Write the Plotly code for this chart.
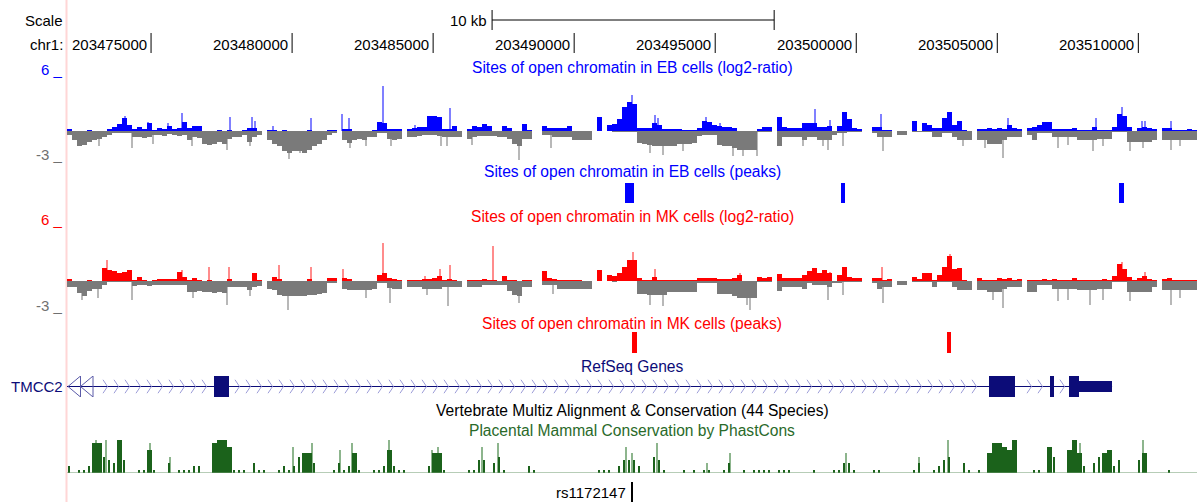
import plotly.graph_objects as go

# ---------------- canvas / window ----------------
W, H = 1204, 502
PLOT_L, PLOT_R = 67, 1197            # pixel extent of the data area
WIN_START, WIN_END = 203472020, 203512080
N_BINS = 226
BIN = (WIN_END - WIN_START) / N_BINS
BPP = (WIN_END - WIN_START) / (PLOT_R - PLOT_L)   # bp per pixel

TICK_POS = [203475000, 203480000, 203485000, 203490000,
            203495000, 203500000, 203505000, 203510000]
TICK_LABELS = ["203475000", "203480000", "203485000", "203490000",
               "203495000", "203500000", "203505000", "203510000"]
SCALE_START, SCALE_LEN = 203487090, 10000

# ---------------- wiggle data (tenths of log2-ratio, per bin) ----------------
EB_POS = [2,0,0,0,1,0,0,0,2,4, 7,13,6,2,4,2,8,1,3,2, 5,2,3,9,3,5,5,0,0,0,
          1,0,1,0,0,1,3,3,0,None, 1,1,0,1,0,0,0,0,1,0, 0,0,1,1,None,2,2,0,0,0,
          0,1,9,8,2,2,2,None,2,3, 4,4,16,16,14,2,2,5,0,None, 2,5,4,7,5,0,0,5,3,0,
          0,7,1,None,None,5,3,3,3,3, 5,0,0,0,0,None,15,None,6,7, 12,25,30,28,3,3,3,8,6,2,
          2,2,2,1,1,1,3,10,9,6, 5,4,4,3,0,0,0,0,2,4, 4,None,14,4,3,3,3,8,8,8,
          4,4,5,0,5,20,12,3,2,None, None,4,4,1,1,None,0,0,None,10, 0,8,6,3,3,13,20,6,10,1,
          0,None,2,2,3,2,3,2,6,3, 2,None,3,4,6,9,9,2,2,2, 2,3,1,1,1,4,1,1,1,4,
          18,16,4,0,3,4,3,2,None,3, 3,1,1,1,2,1]
EB_NEG = [4,9,16,14,11,9,8,6,4,2, 2,2,2,6,6,7,6,4,4,5, 3,4,5,4,9,6,7,13,14,13,
          11,13,8,6,6,4,11,6,4,None, 9,13,16,21,23,21,21,23,20,16, 13,9,4,2,None,9,12,9,8,9,
          6,6,2,2,8,9,8,None,6,6, 5,4,4,4,5,6,6,6,6,None, 8,6,5,5,5,5,6,6,8,13,
          16,8,8,None,None,4,4,6,6,6, 6,9,9,9,9,None,0,None,0,1, 1,1,1,1,12,13,14,16,16,16,
          15,15,13,13,13,12,5,4,4,4, 14,16,16,18,20,20,20,20,1,1, 1,None,16,6,6,6,6,9,6,6,
          9,9,9,4,2,2,1,1,1,None, None,2,6,6,6,None,4,4,None,1, 1,1,1,6,6,2,2,6,9,9,
          9,None,9,9,13,13,13,9,6,6, 6,None,4,9,2,2,2,6,6,6, 6,6,9,9,9,9,8,8,8,1,
          1,1,11,11,11,11,11,9,None,9, 9,9,9,9,9,9]
MK_POS = [2,0,0,0,1,0,0,13,11,10, 8,9,11,1,4,1,0,1,2,2, 2,2,9,4,1,3,1,0,1,0,
          0,0,2,0,0,0,0,8,1,None, 0,4,2,0,0,0,0,0,2,0, 0,0,3,3,None,3,2,0,0,0,
          0,0,6,8,3,2,1,None,1,1, 1,2,2,3,5,1,2,1,0,None, 1,1,1,2,1,1,0,5,1,1,
          0,1,1,None,None,10,3,2,1,1, 1,1,1,0,0,None,11,None,6,5, 8,15,22,22,3,1,1,4,1,1,
          1,1,1,1,1,1,3,3,3,3, 2,2,2,3,6,0,0,0,4,3, 4,None,7,3,3,3,3,6,10,13,
          8,11,8,0,6,15,4,3,3,None, None,3,3,1,2,None,0,0,None,4, 2,8,8,1,6,15,26,12,13,1,
          0,None,3,1,1,1,3,2,3,1, 2,None,1,1,1,2,1,2,1,1, 1,3,1,1,1,1,1,2,1,5,
          18,12,4,1,3,5,2,1,None,2, 3,1,1,1,1,1]
MK_NEG = [6,6,12,16,10,8,8,4,1,1, 1,1,1,5,4,4,5,4,4,4, 4,4,4,4,11,11,10,11,11,12,
          11,12,6,6,6,6,9,6,5,None, 8,9,14,15,16,16,16,16,14,14, 13,12,2,2,None,8,9,9,9,9,
          9,8,2,2,7,8,8,None,6,6, 6,8,8,8,8,6,6,6,6,None, 6,6,6,4,4,4,4,4,10,14,
          16,6,6,None,None,4,4,4,8,8, 8,8,8,8,8,None,0,None,0,1, 0,0,0,0,13,13,14,14,14,14,
          11,11,11,11,11,11,2,2,2,2, 13,13,13,16,18,18,18,18,1,1, 1,None,10,6,6,6,6,8,2,4,
          4,4,6,2,2,1,1,1,1,None, None,2,8,6,6,None,4,4,None,1, 1,1,1,6,1,1,1,6,9,9,
          9,None,9,9,11,11,11,8,6,6, 6,None,11,11,4,4,4,8,8,8, 8,8,9,9,9,9,8,8,8,1,
          1,1,11,11,11,11,11,6,None,9, 9,9,9,9,9,9]
# PhastCons (tenths, per bin)
CONS = [2,0,1,1,2,9,9,5,4,3, 10,4,0,0,1,1,7,1,0,0, 3,0,1,1,1,2,2,0,0,9,
        10,10,8,1,1,1,0,3,1,1, 0,0,1,2,1,2,5,6,6,3, 0,0,0,1,3,1,2,6,1,0,
        0,1,1,2,7,2,1,1,0,0, 0,0,2,6,6,1,0,0,0,0, 1,1,4,4,0,3,5,1,0,0,
        0,0,2,1,0,0,0,0,0,0, 0,0,0,0,0,0,1,1,1,0, 2,4,4,4,2,0,0,5,4,1,
        0,0,0,1,0,1,0,1,1,0, 0,1,3,0,0,1,0,1,1,1, 1,0,1,1,1,0,0,0,0,1,
        0,0,0,1,1,3,3,1,0,0, 0,1,1,0,0,0,0,0,0,1, 3,0,0,1,2,4,5,0,0,3,
        1,0,1,0,6,9,9,8,7,10, 0,0,0,1,1,0,8,5,0,0, 7,10,6,2,0,3,5,6,7,2,
        4,0,0,0,4,6,0,0,0,0, 1,0,0,0,0,0]

# narrow maxima (genomic position, tenths)
EB_POS_SPIKES = [(203474080,16),(203474900,9),(203475020,8),(203475610,8),(203476090,19),
                 (203477800,15),(203478590,15),(203478680,10),(203479330,5),(203480660,13),
                 (203481790,18),(203482030,13),(203483230,47),(203484360,6),(203485600,24),
                 (203492040,37),(203492870,17),(203492980,13),(203494670,15),(203495170,8),
                 (203498540,23),(203499070,11),(203500900,18),(203505390,13),(203508490,13),
                 (203509410,25),(203510120,10),(203510240,10),(203511180,10)]
EB_NEG_SPIKES = [(203473150,16),(203474340,18),(203475080,13),(203476440,16),(203477680,20),
                 (203478510,16),(203479900,29),(203480280,23),(203482050,18),(203482640,16),
                 (203483500,16),(203485300,16),(203485480,16),(203486370,14),(203488040,30),
                 (203489200,18),(203492690,23),(203493160,25),(203493870,21),(203495640,26),
                 (203496000,26),(203496470,26),(203498120,16),(203498830,16),(203499010,20),
                 (203499520,15),(203500960,21),(203503790,16),(203504560,18),(203505210,28),
                 (203507160,18),(203507520,14),(203508400,21),(203508760,16),(203509700,21),
                 (203510180,18),(203511180,20),(203511480,16)]
MK_POS_SPIKES = [(203473430,22),(203476090,11),(203477050,14),(203477770,14),(203479550,17),
                 (203480660,15),(203481820,12),(203483230,39),(203484710,5),(203485240,12),
                 (203485600,17),(203487130,36),(203492100,30),(203492870,12),(203495880,8),
                 (203499070,9),(203500920,14),(203503320,28),(203509410,20),(203510240,9)]
MK_NEG_SPIKES = [(203472540,20),(203473130,18),(203474340,20),(203476480,18),(203477680,25),
                 (203478510,16),(203479870,30),(203482640,18),(203483470,23),(203484770,14),
                 (203485540,26),(203488050,23),(203489260,13),(203492690,25),(203493160,26),
                 (203496120,25),(203496230,30),(203499010,20),(203499520,14),(203500960,23),
                 (203504860,20),(203505210,28),(203507160,21),(203507520,20),(203508290,25),
                 (203508760,20),(203509700,21),(203511180,25),(203511480,18)]
CONS_SPIKES = [(203473050,10),(203473400,10),(203474960,9),(203475670,5),(203480040,8),
               (203480720,9),(203481700,7),(203482130,9),(203483450,10),(203484970,7),
               (203485180,8),(203486720,8),(203487310,9),(203491860,8),(203492060,6),
               (203492930,9),(203494700,3),(203495520,6),(203499630,6),(203502230,5),
               (203503260,10),(203505570,10),(203507930,9),(203510180,10)]

# peaks
EB_PEAKS = [(203491800, 203492120), (203499460, 203499600), (203509310, 203509490)]
MK_PEAKS = [(203492050, 203492230), (203503220, 203503360)]

# RefSeq gene TMCC2 (+ strand, starts left of the window)
GENE_NAME = "TMCC2"
EXONS = [(203477220, 203477760), (203504700, 203505620),
         (203506870, 203507010), (203507540, 203509070)]
CDS_END = 203507890
TX_END = 203509070

SNP_NAME, SNP_POS = "rs1172147", 203492040

# ---------------- colours ----------------
BLUE, BLUE_L = "#0000FF", "#8080FF"
RED, RED_L = "#FF0000", "#FF8C8C"
GRAY, GRAY_L = "#7A7A7A", "#B8B8B8"
GREEN, GREEN_L = "#1B621B", "#8DB58D"
NAVY, NAVY_L = "#0C0C78", "#9C9CD8"
FONT = "Liberation Sans, Arial, Helvetica, sans-serif"
FS = 15
FS_T = 15.6


def px(p):
    return p / W


def py(p):
    return 1 - p / H


fig = go.Figure()


def add_bins(vals, sign, color, yaxis, scale=10.0, frac=1.0, vmin=None, vmax=None):
    xs, ys = [], []
    for i, v in enumerate(vals):
        if v is None or v == 0:
            continue
        if vmin is not None and v < vmin:
            continue
        if vmax is not None and v > vmax:
            continue
        xs.append(WIN_START + (i + 0.5) * BIN)
        ys.append(sign * v / scale)
    fig.add_trace(go.Bar(x=xs, y=ys, width=BIN * frac,
                         marker=dict(color=color, line=dict(width=0)),
                         xaxis="x", yaxis=yaxis, hoverinfo="skip", showlegend=False))


def add_spikes(spk, sign, color, yaxis, scale=10.0):
    fig.add_trace(go.Bar(x=[s[0] for s in spk], y=[sign * s[1] / scale for s in spk],
                         width=1.3 * BPP, marker=dict(color=color, line=dict(width=0)),
                         xaxis="x", yaxis=yaxis, hoverinfo="skip", showlegend=False))


def add_blocks(blocks, color, yaxis, base=0.0, height=1.0):
    fig.add_trace(go.Bar(x=[(s + e) / 2 for s, e in blocks], y=[height] * len(blocks),
                         base=[base] * len(blocks), width=[e - s for s, e in blocks],
                         marker=dict(color=color, line=dict(width=0)),
                         xaxis="x", yaxis=yaxis, hoverinfo="skip", showlegend=False))


# EB log2 ratio (y), EB peaks (y2), MK log2 (y3), MK peaks (y4), gene (y5), cons (y6), snp (y7)
add_spikes(EB_POS_SPIKES, 1, BLUE_L, "y")
add_spikes(EB_NEG_SPIKES, -1, GRAY_L, "y")
add_bins(EB_POS, 1, BLUE, "y")
add_bins(EB_NEG, -1, GRAY, "y")
add_blocks(EB_PEAKS, BLUE, "y2")

add_spikes(MK_POS_SPIKES, 1, RED_L, "y3")
add_spikes(MK_NEG_SPIKES, -1, GRAY_L, "y3")
add_bins(MK_POS, 1, RED, "y3")
add_bins(MK_NEG, -1, GRAY, "y3")
add_blocks(MK_PEAKS, RED, "y4")

# gene model
fig.add_trace(go.Scatter(x=[WIN_START, TX_END], y=[0.5, 0.5], mode="lines",
                         line=dict(color=NAVY, width=1), xaxis="x", yaxis="y5",
                         hoverinfo="skip", showlegend=False))
# chevrons (strand +) at a fixed pixel pitch, skipping exons
cx, cy = [], []
p = 36.0
while True:
    x0 = WIN_START + p * BPP
    if x0 > EXONS[-1][0]:
        break
    x1 = x0 + 4.5 * BPP
    if all(x1 < s - 2 * BPP or x0 > e + 2 * BPP for s, e in EXONS):
        cx += [x0, x1, x0, None]
        cy += [0.82, 0.5, 0.18, None]
    p += 11.0
fig.add_trace(go.Scatter(x=cx, y=cy, mode="lines", line=dict(color=NAVY_L, width=1),
                         xaxis="x", yaxis="y5", hoverinfo="skip", showlegend=False))
# off-screen continuation arrows at the left edge
ax, ay = [], []
for k in range(2):
    tip = WIN_START + (1 + 12.5 * k) * BPP
    base = tip + 12.5 * BPP
    ax += [base, tip, base, base, None]
    ay += [1.0, 0.5, 0.0, 1.0, None]
fig.add_trace(go.Scatter(x=ax, y=ay, mode="lines", line=dict(color="#5A5AA8", width=1),
                         xaxis="x", yaxis="y5", hoverinfo="skip", showlegend=False))
thick = [(s, min(e, CDS_END)) for s, e in EXONS if s < CDS_END]
thin = [(max(s, CDS_END), e) for s, e in EXONS if e > CDS_END]
add_blocks(thick, NAVY, "y5")
add_blocks(thin, NAVY, "y5", base=0.25, height=0.5)

# conservation
fig.add_trace(go.Scatter(x=[WIN_START, WIN_END], y=[0, 0], mode="lines",
                         line=dict(color="#6E9A6E", width=1), xaxis="x", yaxis="y6",
                         hoverinfo="skip", showlegend=False))
add_spikes(CONS_SPIKES, 1, GREEN_L, "y6")
add_bins(CONS, 1, GREEN, "y6", vmin=6)
add_bins(CONS, 1, GREEN, "y6", vmax=5, frac=0.35)

# SNP
add_blocks([(SNP_POS - 0.6 * BPP, SNP_POS + 0.6 * BPP)], "#000000", "y7")

# ---------------- layout ----------------
def ydom(top_px, bot_px):
    return [py(bot_px), py(top_px)]


hidden = dict(visible=False, fixedrange=True, anchor="x")
fig.update_layout(
    width=W, height=H, margin=dict(l=0, r=0, t=0, b=0),
    paper_bgcolor="white", plot_bgcolor="rgba(0,0,0,0)",
    barmode="overlay", bargap=0, showlegend=False,
    font=dict(family=FONT, size=FS, color="black"),
    xaxis=dict(domain=[px(PLOT_L), px(PLOT_R)], range=[WIN_START, WIN_END],
               visible=False, fixedrange=True),
    yaxis=dict(domain=ydom(73, 160), range=[-3, 6], **hidden),
    yaxis2=dict(domain=ydom(183, 203), range=[0, 1], **hidden),
    yaxis3=dict(domain=ydom(223, 310), range=[-3, 6], **hidden),
    yaxis4=dict(domain=ydom(332, 353), range=[0, 1], **hidden),
    yaxis5=dict(domain=ydom(376, 397), range=[0, 1], **hidden),
    yaxis6=dict(domain=ydom(440, 473), range=[0, 1], **hidden),
    yaxis7=dict(domain=ydom(482, 502), range=[0, 1], **hidden),
)

shapes = [dict(type="line", xref="paper", yref="paper", x0=px(66.5), x1=px(66.5),
               y0=0, y1=1, line=dict(color="#FFD6D6", width=2), layer="below")]
for t in TICK_POS:
    shapes.append(dict(type="line", xref="x", yref="paper", x0=t, x1=t,
                       y0=py(53), y1=py(33), line=dict(color="black", width=1)))
shapes.append(dict(type="line", xref="x", yref="paper", x0=SCALE_START,
                   x1=SCALE_START + SCALE_LEN, y0=py(20), y1=py(20),
                   line=dict(color="black", width=1)))
for t in (SCALE_START, SCALE_START + SCALE_LEN):
    shapes.append(dict(type="line", xref="x", yref="paper", x0=t, x1=t,
                       y0=py(30), y1=py(10), line=dict(color="black", width=1)))
fig.update_layout(shapes=shapes)

ann = []


def text(s, x, y, xref="paper", anchor="center", color="black", xshift=0, size=FS):
    ann.append(dict(text=s, x=x, y=py(y), xref=xref, yref="paper", xanchor=anchor,
                    yanchor="middle", showarrow=False, xshift=xshift,
                    font=dict(family=FONT, size=size, color=color)))


text("Scale", px(65), 21, anchor="right")
text("chr1:", px(65), 44, anchor="right")
for t, lab in zip(TICK_POS, TICK_LABELS):
    text(lab, t, 44, xref="x", anchor="right", xshift=-2)
text("10 kb", SCALE_START, 21, xref="x", anchor="right", xshift=-3)

CX = px((PLOT_L + PLOT_R) / 2)
text("Sites of open chromatin in EB cells (log2-ratio)", CX, 67, color=BLUE, size=FS_T)
text("Sites of open chromatin in EB cells (peaks)", CX, 172, color=BLUE, size=FS_T)
text("Sites of open chromatin in MK cells (log2-ratio)", CX, 216, color=RED, size=FS_T)
text("Sites of open chromatin in MK cells (peaks)", CX, 323, color=RED, size=FS_T)
text("RefSeq Genes", CX, 366, color=NAVY, size=FS_T)
text("Vertebrate Multiz Alignment &amp; Conservation (44 Species)", CX, 410, size=FS_T)
text("Placental Mammal Conservation by PhastCons", CX, 430, color="#2A6A2A", size=FS_T)

text("6 _", px(65), 69, anchor="right", color=BLUE)
text("-3 _", px(65), 155, anchor="right", color="#707070")
text("6 _", px(65), 219, anchor="right", color=RED)
text("-3 _", px(65), 305, anchor="right", color="#707070")
text(GENE_NAME, px(65), 386, anchor="right", color=NAVY)
text(SNP_NAME, SNP_POS, 492, xref="x", anchor="right", xshift=-4)
fig.update_layout(annotations=ann)

fig.write_html("out.html", config={"displayModeBar": False},
               post_script="document.body.style.margin='0px';")
